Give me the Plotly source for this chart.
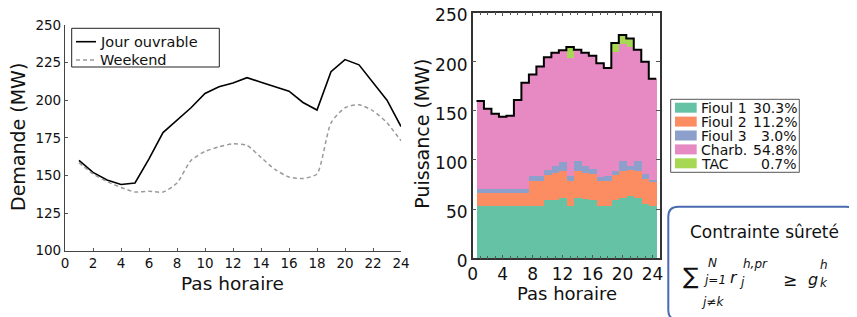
import plotly.graph_objects as go

# ---------------- data ----------------
hours = list(range(1, 25))
jour_ouvrable = [160, 152, 147, 144, 145, 161, 178.5, 187, 195, 204.5, 209, 211.5,
                 215, 212, 209, 206, 198.5, 193.5, 219, 227, 223.5, 212, 200, 182.5]
weekend = [158.5, 151, 146, 142, 139, 139.5, 139, 145, 160, 166, 169, 171,
           170, 162, 154, 149, 148, 151, 185, 195, 197, 193, 185, 173]

fioul1 = [54, 54, 54, 54, 54, 54, 54, 54, 54, 60, 60, 62,
          54, 62, 60.5, 59.5, 54, 54, 60, 62, 64, 62, 56, 54]
fioul2 = [13, 13, 13, 13, 13, 13, 13, 25, 25, 25, 27, 27,
          25, 27.5, 27, 27, 25, 25, 25, 27, 26.5, 27, 25, 25]
fioul3 = [4, 4, 4, 4, 4, 4, 4, 5, 5, 5, 7.5, 9,
          5, 9.5, 7, 5, 4, 5, 4, 10, 4, 10, 5, 0.7]
tac = [0, 0, 0, 0, 0, 0, 0, 0, 0, 0, 0, 0,
       11, 0, 0, 0, 0, 0, 8.5, 8.5, 8.5, 0, 0, 0]
charb = [round(t - a - b - c - d, 2) for t, a, b, c, d in
         zip(jour_ouvrable, fioul1, fioul2, fioul3, tac)]

series_names = ["Fioul 1", "Fioul 2", "Fioul 3", "Charb.", "TAC"]
series_pct = ["30.3%", "11.2%", "3.0%", "54.8%", "0.7%"]
series_values = [fioul1, fioul2, fioul3, charb, tac]
series_colors = ["#66c2a5", "#fc8d62", "#8da0cb", "#e78ac3", "#a6d854"]

left_xticks = list(range(0, 25, 2))
right_xticks = list(range(0, 25, 4))

# ---------------- figure ----------------
# page body has an 8px margin: design in window pixels, shift into figure pixels
OX, OY = 8, 8
FW, FH = 849, 309
FONT = "DejaVu Sans"


def X(p):
    return (p - OX) / FW


def Y(p):
    return 1 - (p - OY) / FH


fig = go.Figure()

fig.add_trace(go.Scatter(x=hours, y=jour_ouvrable, mode="lines",
                         line=dict(color="black", width=1.6),
                         xaxis="x", yaxis="y", showlegend=False))
fig.add_trace(go.Scatter(x=hours, y=weekend, mode="lines",
                         line=dict(color="#9a9a9a", width=1.5, dash="4px,3px",
                                   shape="spline", smoothing=0.6),
                         xaxis="x", yaxis="y", showlegend=False))

for name, vals, col in zip(series_names, series_values, series_colors):
    fig.add_trace(go.Bar(x=hours, y=vals, width=1, name=name,
                         marker=dict(color=col, line=dict(width=0)),
                         xaxis="x2", yaxis="y2", showlegend=False))

step_x = [0.5] + hours + [24.5]
step_y = [jour_ouvrable[0]] + jour_ouvrable + [jour_ouvrable[-1]]
fig.add_trace(go.Scatter(x=step_x, y=step_y, mode="lines",
                         line=dict(color="black", width=2, shape="hvh"),
                         xaxis="x2", yaxis="y2", showlegend=False))

axis_common = dict(showgrid=False, zeroline=False, showline=True,
                   ticks="inside", tickcolor="#555", color="#111",
                   automargin=False, ticklabeloverflow="allow")

shapes = []
annotations = []

# left legend
shapes.append(dict(type="rect", xref="paper", yref="paper",
                   x0=X(71.7), x1=X(219.3), y0=Y(67), y1=Y(28.3),
                   line=dict(color="#222", width=1), fillcolor="white"))
shapes.append(dict(type="line", xref="paper", yref="paper",
                   x0=X(76), x1=X(96), y0=Y(41.7), y1=Y(41.7),
                   line=dict(color="black", width=1.6)))
shapes.append(dict(type="line", xref="paper", yref="paper",
                   x0=X(76), x1=X(96), y0=Y(60), y1=Y(60),
                   line=dict(color="#9a9a9a", width=1.5, dash="4px,3px")))
for txt, yy in [("Jour ouvrable", 41.7), ("Weekend", 60)]:
    annotations.append(dict(text=txt, xref="paper", yref="paper",
                            x=X(98), y=Y(yy), xanchor="left", yanchor="middle",
                            showarrow=False, font=dict(family=FONT, size=14.5, color="#111")))

# right legend
shapes.append(dict(type="rect", xref="paper", yref="paper",
                   x0=X(670.7), x1=X(799.3), y0=Y(172.3), y1=Y(99.3),
                   line=dict(color="#555", width=1), fillcolor="white"))
for i, (name, pct, col) in enumerate(zip(series_names, series_pct, series_colors)):
    yc = 107.7 + 13.9 * i
    shapes.append(dict(type="rect", xref="paper", yref="paper",
                       x0=X(675), x1=X(696.7), y0=Y(yc + 5), y1=Y(yc - 5),
                       line=dict(width=0), fillcolor=col))
    annotations.append(dict(text=name, xref="paper", yref="paper",
                            x=X(699), y=Y(yc + 0.5), xanchor="left", yanchor="middle",
                            showarrow=False, font=dict(family=FONT, size=14, color="#111")))
    annotations.append(dict(text=pct, xref="paper", yref="paper",
                            x=X(799), y=Y(yc + 0.5), xanchor="right", yanchor="middle",
                            showarrow=False, font=dict(family=FONT, size=14, color="#111")))

# axis titles
annotations.append(dict(text="Demande (MW)", xref="paper", yref="paper",
                        x=X(18), y=Y(137), textangle=-90, showarrow=False,
                        xanchor="center", yanchor="middle",
                        font=dict(family=FONT, size=19, color="#111")))
annotations.append(dict(text="Pas horaire", xref="paper", yref="paper",
                        x=X(232.5), y=Y(283.5), showarrow=False,
                        xanchor="center", yanchor="middle",
                        font=dict(family=FONT, size=18.5, color="#111")))
annotations.append(dict(text="Puissance (MW)", xref="paper", yref="paper",
                        x=X(421.7), y=Y(134), textangle=-90, showarrow=False,
                        xanchor="center", yanchor="middle",
                        font=dict(family=FONT, size=19, color="#111")))
annotations.append(dict(text="Pas horaire", xref="paper", yref="paper",
                        x=X(566.7), y=Y(293), showarrow=False,
                        xanchor="center", yanchor="middle",
                        font=dict(family=FONT, size=18, color="#111")))

# constraint box
x0, y0, x1, y1, r = 668.3, 206.7, 855.8, 320, 10
path = (f"M {X(x0)},{Y(y0 + r)} Q {X(x0)},{Y(y0)} {X(x0 + r)},{Y(y0)} "
        f"L {X(x1 - r)},{Y(y0)} Q {X(x1)},{Y(y0)} {X(x1)},{Y(y0 + r)} "
        f"L {X(x1)},{Y(y1 - r)} Q {X(x1)},{Y(y1)} {X(x1 - r)},{Y(y1)} "
        f"L {X(x0 + r)},{Y(y1)} Q {X(x0)},{Y(y1)} {X(x0)},{Y(y1 - r)} Z")
shapes.append(dict(type="path", xref="paper", yref="paper", path=path,
                   line=dict(color="#4a6ab0", width=2), fillcolor="white"))
annotations.append(dict(text="Contrainte sûreté", xref="paper", yref="paper",
                        x=X(764), y=Y(232), showarrow=False,
                        xanchor="center", yanchor="middle",
                        font=dict(family=FONT, size=17, color="#111")))

math_parts = [
    ("∑", 690.5, 276, 23, False),
    ("N", 712, 263, 12, True),
    ("j=1", 714, 280, 12, True),
    ("j≠k", 712, 302, 12, True),
    ("r", 734, 277, 16, True),
    ("h,pr", 755, 263.5, 12, True),
    ("j", 742, 282, 12, True),
    ("≥", 790, 280, 17, False),
    ("g", 813, 279, 16, True),
    ("h", 823.5, 265, 12, True),
    ("k", 824, 283, 12, True),
]
for txt, xx, yy, sz, it in math_parts:
    annotations.append(dict(text=(f"<i>{txt}</i>" if it else txt),
                            xref="paper", yref="paper", x=X(xx), y=Y(yy),
                            showarrow=False, xanchor="center", yanchor="middle",
                            font=dict(family=FONT, size=sz, color="#111")))

fig.update_layout(
    width=FW, height=FH,
    margin=dict(l=0, r=0, t=0, b=0, pad=0, autoexpand=False),
    paper_bgcolor="white", plot_bgcolor="white",
    barmode="stack", bargap=0, showlegend=False,
    font=dict(family=FONT, color="#111"),
    xaxis=dict(domain=[X(65), X(401)], range=[0, 24], tickvals=left_xticks,
               anchor="y", linecolor="#444", linewidth=1.2, ticklen=3,
               tickfont=dict(size=13.5), **axis_common),
    yaxis=dict(domain=[Y(250.7), Y(25)], range=[100, 250], dtick=25,
               anchor="x", linecolor="#444", linewidth=1.2, ticklen=3,
               tickfont=dict(size=13.5), **axis_common),
    xaxis2=dict(domain=[X(472.7), X(660)], range=[0, 25], tickvals=right_xticks,
                anchor="y2", mirror="ticks", linecolor="#333", linewidth=1.5,
                ticklen=4, minor=dict(dtick=1, ticks="inside", ticklen=3, tickcolor="#555"),
                tickfont=dict(size=17), **axis_common),
    yaxis2=dict(domain=[Y(258.3), Y(12.5)], range=[0, 250], dtick=50,
                anchor="x2", mirror="ticks", linecolor="#333", linewidth=1.5,
                ticklen=4, tickfont=dict(size=17), ticklabelshift=3, **axis_common),
    shapes=shapes,
    annotations=annotations,
)

fig.write_html("out.html")
